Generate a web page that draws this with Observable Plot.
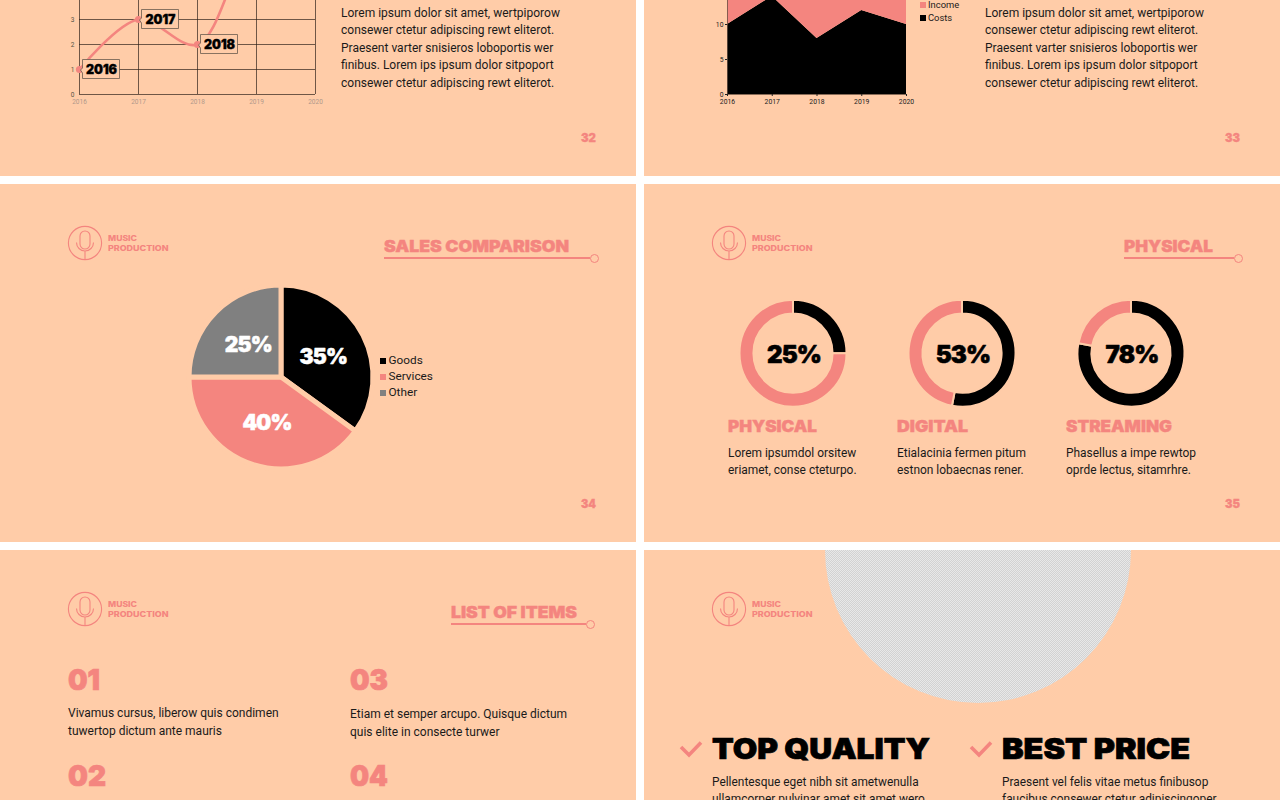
<!DOCTYPE html>
<html><head><meta charset="utf-8">
<style>
html,body{margin:0;padding:0;width:1280px;height:800px;overflow:hidden;background:#fff}
#page{position:relative;width:1280px;height:800px;overflow:hidden;font-family:Roboto,sans-serif;color:#111}
.panel{position:absolute;background:#FFCCA8;overflow:hidden}
.t{position:absolute;white-space:nowrap;transform-origin:left center;line-height:1}
svg{display:block}
</style>
<script src="https://cdn.jsdelivr.net/npm/d3@7"></script>
<script src="https://cdn.jsdelivr.net/npm/@observablehq/plot@0.6"></script>
</head><body><div id="page"></div>
<script>
// ---- data ----
const years = [2016, 2017, 2018, 2019, 2020];
const lineValues = [1, 3, 2, 6, 5];
const lineLabelled = [2016, 2017, 2018];
const lineTicks = [0, 1, 2, 3];
const costs = [10, 14, 8, 12, 10];
const income = [6, 5, 9, 5, 6];
const areaTicks = [0, 5, 10];
const pieNames = ["Goods", "Services", "Other"];
const pieShares = [35, 40, 25];
const donutNames = ["PHYSICAL", "DIGITAL", "STREAMING"];
const donutShares = [25, 53, 78];
const donutTexts = [
  ["Lorem ipsumdol orsitew", "eriamet, conse cteturpo."],
  ["Etialacinia fermen pitum", "estnon lobaecnas rener."],
  ["Phasellus a impe rewtop", "oprde lectus, sitamrhre."]];
const lorem = ["Lorem ipsum dolor sit amet, wertpiporow","consewer ctetur adipiscing rewt eliterot.","Praesent varter snisieros loboportis wer","finibus. Lorem ips ipsum dolor sitpoport","consewer ctetur adipiscing rewt eliterot."];

// ---- styling ----
const BG = "#FFCCA8", PINK = "#F4857F", BLACK = "#000", GREY = "#808080";
const HEAVY = "Inter, Lato, sans-serif";
const page = document.getElementById("page");
const panels = [[0,0,636,176],[644,0,636,176],[0,184,636,358],[644,184,636,358],[0,550,636,250],[644,550,636,250]];
const pEls = panels.map(([x,y,w,h]) => {
  const d = document.createElement("div"); d.className = "panel";
  d.style.cssText = `left:${x}px;top:${y}px;width:${w}px;height:${h}px`;
  page.appendChild(d); return d;
});
function put(x, cy, s, {size=12, color="#1a1a1a", weight=400, family="Roboto,sans-serif", w=null, bold=0}={}) {
  const e = document.createElement("div"); e.className = "t"; e.textContent = s;
  e.style.cssText = `font:${weight} ${size}px ${family};color:${color};line-height:1;` + (bold?`-webkit-text-stroke:${bold}px ${color};`:"");
  page.appendChild(e);
  const r = e.getBoundingClientRect();
  e.style.left = x + "px"; e.style.top = (cy + 0.8 - r.height/2) + "px";
  if (w) e.style.transform = `scaleX(${w / r.width})`;
  return e;
}
const heavy = (x,cy,s,size,w,color=PINK) => put(x,cy,s,{size,w,color,weight:900,family:HEAVY,bold:size*0.025});
function addSvg(el, x, y){ el.style.position="absolute"; el.style.left=x+"px"; el.style.top=y+"px"; return el; }

// ---- decorations: logos, headings ----
function logo(cx, cy) {
  const ns = "http://www.w3.org/2000/svg";
  const s = document.createElementNS(ns,"svg");
  s.setAttribute("width",40); s.setAttribute("height",40);
  s.style.cssText=`position:absolute;left:${cx-20}px;top:${cy-20}px`;
  s.innerHTML = `<g fill="none" stroke="${PINK}" stroke-width="1.1"><circle cx="20" cy="20" r="16.6"/><rect x="15" y="8" width="10" height="18" rx="5"/><path d="M11.5 19.5a8.5 8.5 0 0 0 17 0M20 28v8.4"/></g>`;
  page.appendChild(s);
  put(cx+23, cy-5, "MUSIC", {size:7.6, color:PINK, weight:800, family:HEAVY, w:29});
  put(cx+23, cy+5, "PRODUCTION", {size:7.6, color:PINK, weight:800, family:HEAVY, w:60.5});
}
logo(85,243); logo(729,243); logo(85,609); logo(729,609);
function heading(x1, x2, cy, s, lx2) {
  heavy(x1, cy, s, 16, x2-x1);
  const e = document.createElement("div");
  e.style.cssText=`position:absolute;left:${x1}px;top:${cy+11.8}px;width:${lx2-x1}px;height:1.4px;background:${PINK}`;
  page.appendChild(e);
  const c = document.createElement("div");
  c.style.cssText=`position:absolute;left:${lx2}px;top:${cy+8}px;width:7.4px;height:7.4px;border:1.4px solid ${PINK};border-radius:50%`;
  page.appendChild(c);
}
heading(384,569,245.5,"SALES COMPARISON",589.5);
heading(1124,1213,245.5,"PHYSICAL",1233.5);
heading(451,577,611.5,"LIST OF ITEMS",586);

// page numbers
heavy(581,137,"32",12,15); heavy(1225,137,"33",12,15);
heavy(581,503,"34",12,15); heavy(1225,503,"35",12,15);

// body text top slides
lorem.forEach((s,i)=>{ const y=[12,29.5,47,64.5,82.5][i]; put(341,y,s); put(985,y,s); });

// ---- slide 32: line chart ----
const lineData = years.map((y,i)=>({year:y,value:lineValues[i]}));
const labelled = lineData.filter(d=>lineLabelled.includes(d.year));
const boxes = (index, scales) => {
  const g = d3.create("svg:g");
  for (const d of labelled) {
    const px = scales.x(d.year), py = scales.y(d.value);
    g.append("path").attr("d",`M${px+3.5} ${py-9.5}h37v19h-37v-5.5l-2 -3 2 -2z`)
      .attr("fill",BG).attr("stroke","#6a5a4e").attr("stroke-width",0.8);
  }
  return g.node();
};
const c32 = Plot.plot({
  width:636, height:180, marginLeft:79, marginRight:321, marginTop:4, marginBottom:26,
  x:{domain:[2016,2020]}, y:{domain:[0,6]},
  style:{background:"transparent",fontFamily:"Roboto,sans-serif",fontSize:"6.5px",overflow:"visible"},
  marks:[
    Plot.gridX(years,{x:d=>d,stroke:"#2a1e16",strokeOpacity:0.85,strokeWidth:0.8}),
    Plot.gridY([...lineTicks,4,5,6],{y:d=>d,stroke:"#2a1e16",strokeOpacity:0.85,strokeWidth:0.8}),
    Plot.axisX(years,{tickFormat:"d",tickSize:0,tickPadding:5,color:"#b0988a",label:null,fontSize:6.5}),
    Plot.axisY(lineTicks,{tickSize:0,tickPadding:5,color:"#554",label:null,fontSize:6.5}),
    Plot.line(lineData,{x:"year",y:"value",curve:"catmull-rom",stroke:PINK,strokeWidth:2.6}),
    Plot.dot(lineData,{x:"year",y:"value",r:3.6,fill:PINK}),
    boxes,
    Plot.text(labelled,{x:"year",y:"value",text:d=>String(d.year),dx:22,fontSize:12.5,fontWeight:900,fontFamily:HEAVY,fill:"#000",stroke:"#000",strokeWidth:0.35})
  ]
});
page.appendChild(addSvg(c32,0,-60));

// ---- slide 33: stacked area ----
const stackData = [
  ...years.map((y,i)=>({year:y,series:"Costs",value:costs[i]})),
  ...years.map((y,i)=>({year:y,series:"Income",value:income[i]}))];
const c33 = Plot.plot({
  width:636, height:180, marginLeft:83, marginRight:374, marginTop:14, marginBottom:26,
  x:{domain:[2016,2020]}, y:{domain:[0,20]},
  color:{domain:["Income","Costs"],range:[PINK,BLACK]},
  style:{background:"transparent",fontFamily:"Roboto,sans-serif",overflow:"visible"},
  marks:[
    Plot.areaY(stackData,{x:"year",y:"value",fill:"series",order:["Costs","Income"]}),
    Plot.ruleY([0],{stroke:"#6a5242",strokeWidth:0.8}),
    Plot.ruleX([2016],{stroke:"#6a5242",strokeWidth:0.8}),
    Plot.axisX(years,{tickFormat:"d",tickSize:2,tickPadding:3,color:"#222",label:null,fontSize:6.8}),
    Plot.axisY(areaTicks,{tickSize:2,tickPadding:2,color:"#222",label:null,fontSize:6.8})
  ]
});
page.appendChild(addSvg(c33,644,-60));
function swatch(x,cy,color,size=6){
  const s=document.createElement("div");
  s.style.cssText=`position:absolute;left:${x}px;top:${cy-size/2}px;width:${size}px;height:${size}px;background:${color}`;
  page.appendChild(s);
}
[["Income",4,PINK],["Costs",17,BLACK]].forEach(([n,y,c])=>{ swatch(920,y+0.5,c); put(928,y,n,{size:9.4}); });

// ---- arc mark helper ----
const arcMark = (slices, cx, cy, r0, r1, strokeW) => (index, scales) => {
  const X = cx(scales), Y = cy(scales), R = (scales.y(-1)-scales.y(1))/2;
  const g = d3.create("svg:g");
  const arc = d3.arc();
  for (const s of slices) {
    g.append("path")
      .attr("transform",`translate(${X(s)},${Y(s)})`)
      .attr("d",arc({innerRadius:R*r0,outerRadius:R*r1,startAngle:s.startAngle,endAngle:s.endAngle}))
      .attr("fill",s.fill).attr("stroke",BG).attr("stroke-width",strokeW);
  }
  return g.node();
};

// ---- slide 34: pie ----
const pieColor = d3.scaleOrdinal(pieNames,[BLACK,PINK,GREY]);
let a0 = 0;
const pieSlices = pieNames.map((n,i)=>{
  const a1 = a0 + pieShares[i]/100*2*Math.PI;
  const s = {name:n,share:pieShares[i],startAngle:a0,endAngle:a1,fill:pieColor(n),mid:(a0+a1)/2};
  a0 = a1; return s;
});
const c34 = Plot.plot({
  width:636, height:358, marginLeft:189, marginRight:636-373, marginTop:377-184-92, marginBottom:358-(377-184+92),
  x:{domain:[-1,1],axis:null}, y:{domain:[-1,1],axis:null},
  style:{background:"transparent",overflow:"visible",letterSpacing:"-0.8px"},
  marks:[
    arcMark(pieSlices,sc=>()=>sc.x(0),sc=>()=>sc.y(0),0,1,5),
    Plot.text(pieSlices,{x:d=>Math.sin(d.mid)*0.511,y:d=>Math.cos(d.mid)*0.511,text:d=>d.share+"%",dy:1,fontSize:21,fontWeight:900,fontFamily:HEAVY,fill:"#fff",stroke:"#fff",strokeWidth:0.5})
  ]
});
page.appendChild(addSvg(c34,0,184));
pieNames.forEach((n,i)=>{ const y=360.5+i*16; swatch(380,y+0.5,pieColor(n)); put(388.5,y,n,{size:11.8}); });

// ---- slide 35: donuts ----
const donutSlices = donutNames.flatMap((n,i)=>{
  const a = donutShares[i]/100*2*Math.PI;
  return [
    {name:n,startAngle:0,endAngle:a,fill:BLACK},
    {name:n,startAngle:a,endAngle:2*Math.PI,fill:PINK}];
});
const c35 = Plot.plot({
  width:636, height:358, marginLeft:149, marginRight:149, marginTop:353.2-184-53.5, marginBottom:358-(353.2-184+53.5),
  x:{type:"point",domain:donutNames,padding:0,axis:null}, y:{domain:[-1,1],axis:null},
  style:{background:"transparent",overflow:"visible",letterSpacing:"-0.8px"},
  marks:[
    arcMark(donutSlices,sc=>d=>sc.x(d.name),sc=>()=>sc.y(0),0.74,1,2),
    Plot.text(donutNames,{x:d=>d,y:()=>0,text:(d,i)=>donutShares[i]+"%",fontSize:24,fontWeight:900,fontFamily:HEAVY,fill:"#000",stroke:"#000",strokeWidth:0.6,dy:2,dx:0.5})
  ]
});
page.appendChild(addSvg(c35,644,184));
donutNames.forEach((n,i)=>{
  const x=[728,897,1066][i], w=[89,71,106][i];
  heavy(x,425,n,16,w);
  put(x,453.3,donutTexts[i][0],{size:11.95});
  put(x,470.3,donutTexts[i][1],{size:11.95});
});

// ---- slide 36: list ----
heavy(68,678.5,"01",29,32); heavy(350,678.5,"03",29,38);
heavy(68,774.5,"02",29,38); heavy(350,774.5,"04",29,38);
put(68,712.5,"Vivamus cursus, liberow quis condimen");
put(68,729.8,"tuwertop dictum ante mauris");
put(350,713.5,"Etiam et semper arcupo. Quisque dictum");
put(350,730.8,"quis elite in consecte turwer");

// ---- slide 37: image placeholder and features ----
const ph=document.createElement("div");
ph.style.cssText=`position:absolute;left:${825-644}px;top:${397-550}px;width:306px;height:306px;border-radius:50%;background:repeating-conic-gradient(#d2d2d2 0 25%,#e8e8e8 0 50%) 0 0/2px 2px`;
pEls[5].appendChild(ph);
function check(x,y){
  const ns="http://www.w3.org/2000/svg", s=document.createElementNS(ns,"svg");
  s.setAttribute("width",26);s.setAttribute("height",20);
  s.style.cssText=`position:absolute;left:${x}px;top:${y}px`;
  s.innerHTML=`<path d="M2 8l8 8L22 3.5" fill="none" stroke="${PINK}" stroke-width="3.6"/>`;
  page.appendChild(s);
}
check(679,739); check(969,739);
heavy(712,748,"TOP QUALITY",28.5,218,"#000");
heavy(1002,748,"BEST PRICE",28.5,188,"#000");
put(712,782,"Pellentesque eget nibh sit ametwenulla",{size:11.9});
put(712,799.5,"ullamcorper pulvinar amet sit amet wero",{size:11.9});
put(1002,782,"Praesent vel felis vitae metus finibusop",{size:11.9});
put(1002,799.5,"faucibus consewer ctetur adipiscingoper",{size:11.9});
</script></body></html>
